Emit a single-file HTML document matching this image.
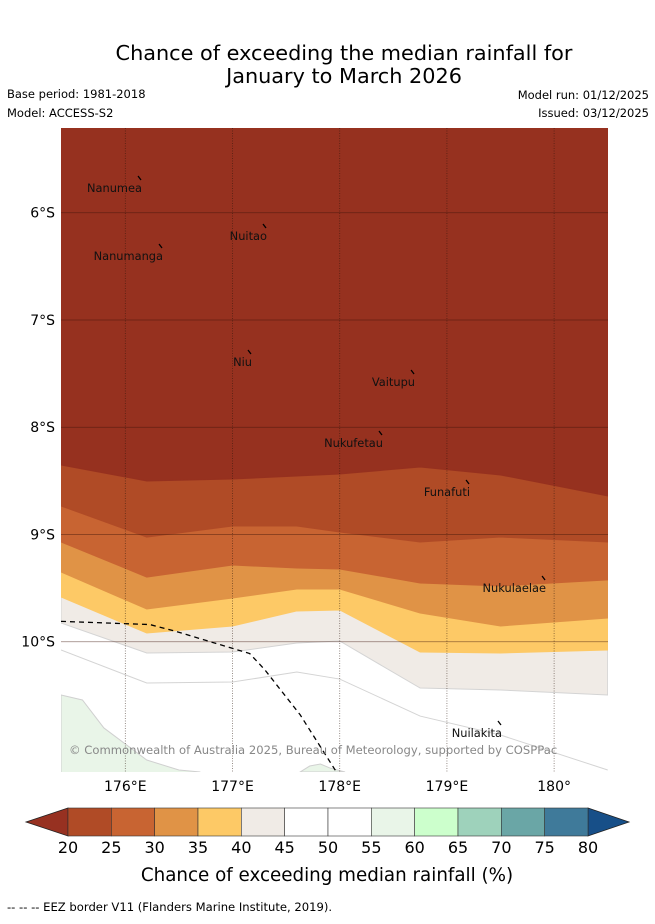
<!DOCTYPE html>
<html><head><meta charset="utf-8"><style>
body{margin:0;background:#fff;width:655px;height:919px;overflow:hidden;font-family:"Liberation Sans","DejaVu Sans",sans-serif}
svg text{font-family:"DejaVu Sans","Liberation Sans",sans-serif}
</style></head><body>
<svg id="chart" width="655" height="919" xmlns="http://www.w3.org/2000/svg">
<text x="344" y="60" font-size="20.8" text-anchor="middle">Chance of exceeding the median rainfall for</text>
<text x="344" y="83" font-size="20.8" text-anchor="middle">January to March 2026</text>
<text x="7" y="98" font-size="11.5">Base period: 1981-2018</text>
<text x="7" y="117" font-size="11.5">Model: ACCESS-S2</text>
<text x="649" y="99" font-size="11.5" text-anchor="end">Model run: 01/12/2025</text>
<text x="649" y="117" font-size="11.5" text-anchor="end">Issued: 03/12/2025</text>
<defs><clipPath id="mapclip"><rect x="61" y="128" width="547" height="644"/></clipPath></defs>
<g id="map" clip-path="url(#mapclip)"></g>
<g id="axes"></g>
<g id="cbar"></g>
<text x="327" y="881" font-size="18.3" text-anchor="middle">Chance of exceeding median rainfall (%)</text>
<text x="7" y="911" font-size="11.6">--  --  -- EEZ border V11 (Flanders Marine Institute, 2019).</text>
</svg>
<script>
const lons=[175.4,176.2,177.0,177.6,178.0,178.75,179.5,180.5];
const b20=[8.352,8.501,8.483,8.455,8.436,8.371,8.445,8.641];
const b25=[8.734,9.024,8.921,8.921,8.977,9.070,9.024,9.070];
const b30=[9.070,9.397,9.285,9.313,9.322,9.452,9.480,9.424];
const b35=[9.350,9.695,9.592,9.508,9.508,9.732,9.853,9.779];
const b40=[9.583,9.919,9.853,9.713,9.704,10.096,10.105,10.077];
const b45=[9.825,10.105,10.096,10.012,9.993,10.432,10.450,10.497];
const b50=[10.077,10.385,10.376,10.282,10.348,10.693,10.870,11.196];
const greenLons=[175.4,175.6,175.8,176.2,176.5,176.7];
const greenLats=[10.497,10.543,10.804,11.103,11.196,11.215];
const bumpLons=[177.63,177.72,177.82,177.91,178.05];
const bumpLats=[11.215,11.159,11.140,11.178,11.215];
const eezLons=[175.4,176.23,176.46,177.16,177.3,177.63,177.96];
const eezLats=[9.81,9.84,9.90,10.11,10.26,10.68,11.2];
const lonTicks=[176,177,178,179,180];
const lonLabels=["176°E","177°E","178°E","179°E","180°"];
const latTicks=[6,7,8,9,10];
const latLabels=["6°S","7°S","8°S","9°S","10°S"];
const islandNames=["Nanumea","Nuitao","Nanumanga","Niu","Vaitupu","Nukufetau","Funafuti","Nukulaelae","Nuilakita"];
const islandLons=[176.137,177.303,176.333,177.163,178.684,178.385,179.197,179.906,179.495];
const islandLats=[5.676,6.124,6.310,7.299,7.485,8.054,8.511,9.406,10.758];
const cbLevels=[20,25,30,35,40,45,50,55,60,65,70,75,80];
const cbColors=["#b04b26","#c86432","#e09346","#fdc966","#f0ebe6","#ffffff","#ffffff","#e9f5e8","#ccffcc","#9ed2bb","#6aa6a6","#3f7a9a"];

const X=lon=>61+(lon-175.4)*107.2;
const Y=lat=>128+(lat-5.21)*107.25;
const NS="http://www.w3.org/2000/svg";
function mk(parent,tag,attrs){const e=document.createElementNS(NS,tag);for(const k in attrs)e.setAttribute(k,attrs[k]);parent.appendChild(e);return e;}
const map=document.getElementById('map'),axes=document.getElementById('axes'),cb=document.getElementById('cbar');
let r=mk(map,'rect',{x:61,y:128,width:547,height:644,fill:'#fff'});


function above(lats){let d='M'+X(lons[0])+','+(120);lons.forEach((l,i)=>d+=' L'+X(l)+','+Y(lats[i]));d+=' L'+X(lons[lons.length-1])+',120 Z';return d;}
function line(ls,la){return ls.map((l,i)=>(i?'L':'M')+X(l)+','+Y(la[i])).join(' ');}
const bands=[[b45,'#f0ebe6','band-40-45'],[b40,'#fdc966','band-35-40'],[b35,'#e09346','band-30-35'],[b30,'#c86432','band-25-30'],[b25,'#b04b26','band-20-25'],[b20,'#96311f','band-below-20']];
let p=mk(map,'path',{d:line(lons,b50),fill:'none',stroke:'#d4d4d4','stroke-width':1});


p=mk(map,'path',{d:line(greenLons,greenLats)+' L'+X(175.4)+',780 Z',fill:'#e9f5e8',stroke:'#d0d0d0','stroke-width':1});


p=mk(map,'path',{d:line(bumpLons,bumpLats)+' Z',fill:'#e9f5e8',stroke:'#d0d0d0','stroke-width':1});


bands.forEach(b=>{const q=mk(map,'path',{d:above(b[0]),fill:b[1],stroke:b[0]===b45?'#d4d4d4':b[1],'stroke-width':1});

});
latTicks.forEach((t,i)=>{const g=mk(map,'line',{x1:61,x2:608,y1:Y(t),y2:Y(t),stroke:'rgba(60,20,10,0.55)','stroke-width':0.8});


const tx=mk(axes,'text',{x:55,y:Y(t)+5,'font-size':14,'text-anchor':'end'});tx.textContent=latLabels[i];

});
lonTicks.forEach((t,i)=>{const g=mk(map,'line',{x1:X(t),x2:X(t),y1:128,y2:772,stroke:'rgba(40,20,10,0.6)','stroke-width':0.8,'stroke-dasharray':'1,1.5'});


const tx=mk(axes,'text',{x:X(t),y:791,'font-size':14,'text-anchor':'middle'});tx.textContent=lonLabels[i];

});
p=mk(map,'path',{d:line(eezLons,eezLats),fill:'none',stroke:'#000','stroke-width':1.3,'stroke-dasharray':'5,4'});


islandNames.forEach((n,i)=>{const x=X(islandLons[i]),y=Y(islandLats[i]);
const m=mk(map,'line',{x1:x-2,y1:y-2,x2:x+1,y2:y+2,stroke:'#000','stroke-width':1.3});


const t=mk(map,'text',{x:x+2,y:y+14,'font-size':11.4,'text-anchor':'end',fill:'#111'});t.textContent=n;

});
const cr=mk(map,'text',{x:69,y:754,'font-size':11.6,fill:'#888'});cr.textContent='© Commonwealth of Australia 2025, Bureau of Meteorology, supported by COSPPac';


// colorbar
const cx=v=>68+(v-20)/60*520;
let tri=mk(cb,'polygon',{points:'68,808 26,822 68,836',fill:'#973121',stroke:'#222','stroke-width':0.8});


tri=mk(cb,'polygon',{points:'588,808 629,822 588,836',fill:'#174f88',stroke:'#222','stroke-width':0.8});


cbColors.forEach((c,i)=>{const s=mk(cb,'rect',{x:cx(cbLevels[i]),y:808,width:cx(cbLevels[i+1])-cx(cbLevels[i]),height:28,fill:c,stroke:'#333','stroke-width':0.6});

});
cbLevels.forEach(v=>{const t=mk(cb,'text',{x:cx(v),y:853,'font-size':16,'text-anchor':'middle'});t.textContent=v;

});
</script>
</body></html>
